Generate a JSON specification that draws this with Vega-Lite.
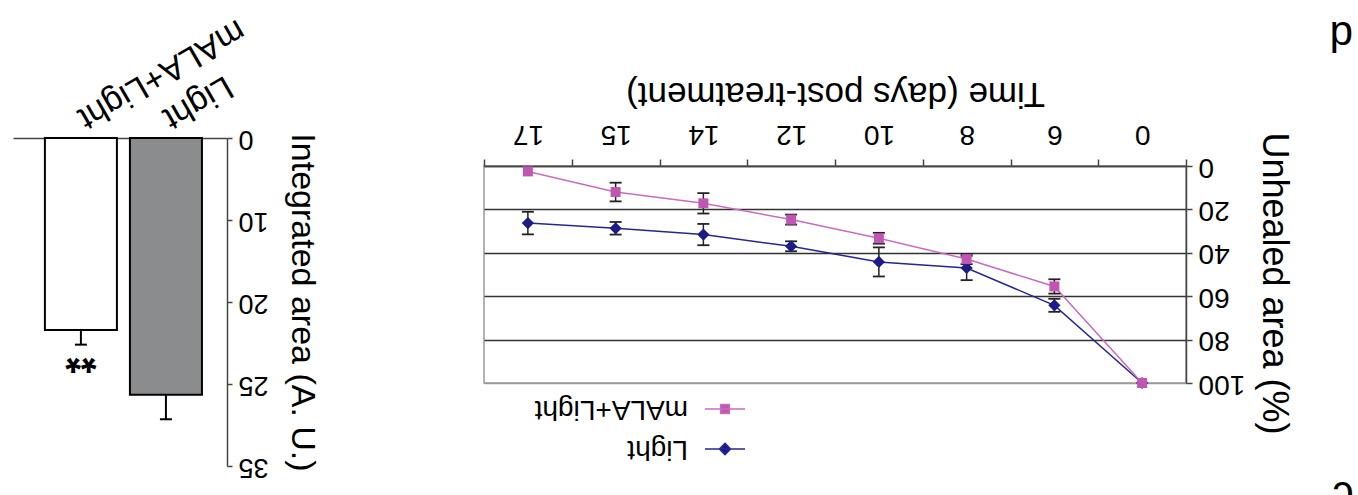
{
  "$schema": "https://vega.github.io/schema/vega-lite/v6.json",
  "padding": {"left": 13, "top": 12, "right": 0, "bottom": -10},
  "config": {
    "font": "Liberation Sans",
    "axis": {"labelFont": "Liberation Sans", "titleFont": "Liberation Sans", "labelColor": "#000", "titleColor": "#000", "titleFontWeight": "normal", "domainColor": "#444", "tickColor": "#444", "domainWidth": 1.5, "tickWidth": 1.5},
    "legend": {"labelFont": "Liberation Sans", "labelColor": "#000"},
    "title": {"font": "Liberation Sans", "color": "#000"}
  },
  "title": {"text": "c", "orient": "bottom", "anchor": "end", "angle": 180, "align": "left", "baseline": "bottom", "fontSize": 42, "fontWeight": "normal", "offset": -21},
  "datasets": {
    "lines": [
      {"day": "0", "group": "Light", "v": 100, "lo": 100, "hi": 100},
      {"day": "6", "group": "Light", "v": 64.2, "lo": 61.2, "hi": 67.2},
      {"day": "8", "group": "Light", "v": 47, "lo": 41.4, "hi": 52.6},
      {"day": "10", "group": "Light", "v": 44.2, "lo": 37.5, "hi": 50.9},
      {"day": "12", "group": "Light", "v": 37, "lo": 34.7, "hi": 39.3},
      {"day": "14", "group": "Light", "v": 31.6, "lo": 26.7, "hi": 36.5},
      {"day": "15", "group": "Light", "v": 28.7, "lo": 25.8, "hi": 31.6},
      {"day": "17", "group": "Light", "v": 26.3, "lo": 21.1, "hi": 31.5},
      {"day": "0", "group": "mALA+Light", "v": 100, "lo": 100, "hi": 100},
      {"day": "6", "group": "mALA+Light", "v": 55.5, "lo": 52.2, "hi": 58.8},
      {"day": "8", "group": "mALA+Light", "v": 42.9, "lo": 40.6, "hi": 45.2},
      {"day": "10", "group": "mALA+Light", "v": 33.3, "lo": 30.8, "hi": 35.8},
      {"day": "12", "group": "mALA+Light", "v": 24.7, "lo": 22.4, "hi": 27},
      {"day": "14", "group": "mALA+Light", "v": 17.2, "lo": 12.5, "hi": 21.9},
      {"day": "15", "group": "mALA+Light", "v": 12, "lo": 7.7, "hi": 16.3},
      {"day": "17", "group": "mALA+Light", "v": 2.5, "lo": 2.5, "hi": 2.5}
    ],
    "bars": [
      {"group": "mALA+Light", "v": 23.4, "hi": 25.2, "sig": "**"},
      {"group": "Light", "v": 31.3, "hi": 34.3, "sig": ""}
    ]
  },
  "resolve": {"scale": {"color": "independent"}},
  "spacing": 163,
  "hconcat": [
    {
      "width": 214,
      "height": 300,
      "view": {"stroke": null},
      "data": {"name": "bars"},
      "encoding": {
        "x": {"field": "group", "type": "nominal", "sort": null,
          "scale": {"domain": ["mALA+Light", "Light"], "paddingInner": 0.153, "paddingOuter": 0.335, "align": 0.56},
          "axis": {"orient": "top", "offset": 28, "title": null, "labelAngle": 150, "labelAlign": "right", "labelBaseline": "middle", "labelFontSize": 34, "labelLimit": 500, "labelPadding": 18, "ticks": false, "domainColor": "#444"}}
      },
      "layer": [
        {
          "mark": {"type": "bar", "stroke": "#000", "strokeWidth": 2},
          "encoding": {
            "y": {"field": "v", "type": "quantitative", "scale": {"domain": [0, 40], "range": [-28, 300], "nice": false},
              "axis": {"orient": "right", "values": [0, 10, 20, 30, 40], "labelExpr": "datum.value == 30 ? '25' : (datum.value == 40 ? '35' : datum.label)", "labelAngle": 180, "labelAlign": "right", "labelBaseline": "middle", "labelFontSize": 27, "labelPadding": 6, "tickSize": 5, "grid": false, "title": "Integrated area (A. U.)", "titleFontSize": 34, "titlePadding": 16}},
            "fill": {"field": "group", "type": "nominal", "scale": {"domain": ["mALA+Light", "Light"], "range": ["#ffffff", "#8b8c8e"]}, "legend": null}
          }
        },
        {
          "mark": {"type": "rule", "stroke": "#000", "strokeWidth": 2},
          "encoding": {"y": {"field": "v", "type": "quantitative"}, "y2": {"field": "hi"}}
        },
        {
          "mark": {"type": "tick", "color": "#000", "thickness": 2, "size": 12, "opacity": 1},
          "encoding": {"y": {"field": "hi", "type": "quantitative"}}
        },
        {
          "mark": {"type": "text", "angle": 180, "baseline": "alphabetic", "align": "center", "fontSize": 40, "fontWeight": "bold", "font": "Liberation Sans", "color": "#000"},
          "encoding": {"y": {"field": "hi", "type": "quantitative"}, "text": {"field": "sig"}}
        }
      ]
    },
    {
      "width": 702,
      "height": 217,
      "view": {"stroke": "#9a9a9a", "strokeWidth": 1.5},
      "title": {"text": "d", "orient": "top", "anchor": "end", "frame": "bounds", "angle": 180, "baseline": "top", "align": "right", "fontSize": 42, "fontWeight": "normal", "dx": -38, "offset": -22},
      "data": {"name": "lines"},
      "encoding": {
        "x": {"field": "day", "type": "nominal", "sort": null,
          "scale": {"type": "band", "domain": ["17", "15", "14", "12", "10", "8", "6", "0"], "paddingInner": 0, "paddingOuter": 0},
          "axis": {"orient": "top", "title": "Time (days post-treatment)", "titleFontSize": 35, "titleAngle": 180, "titleBaseline": "top", "titlePadding": 9, "labelAngle": 180, "labelAlign": "center", "labelBaseline": "top", "labelFontSize": 28, "labelPadding": 12, "tickSize": 7, "tickBand": "extent", "domainColor": "#444"}}
      },
      "layer": [
        {
          "mark": {"type": "line", "strokeWidth": 1.5},
          "encoding": {
            "y": {"field": "v", "type": "quantitative", "scale": {"domain": [0, 100], "reverse": true, "nice": false},
              "axis": {"orient": "right", "values": [0, 20, 40, 60, 80, 100], "labelAngle": 180, "labelAlign": "right", "labelBaseline": "middle", "labelFontSize": 28, "labelPadding": 6, "tickSize": 6, "grid": true, "gridColor": {"condition": {"test": "datum.value === 100", "value": "#9a9a9a"}, "value": "#333"}, "gridWidth": 1.5, "title": "Unhealed area (%)", "titleFontSize": 36, "titlePadding": 10, "titleY": 117}},
            "color": {"field": "group", "type": "nominal", "scale": {"domain": ["mALA+Light", "Light"], "range": ["#c86cbf", "#26268f"]},
              "legend": {"orient": "none", "legendX": 220, "legendY": 222, "title": null, "labelFontSize": 28, "labelLimit": 400, "symbolSize": 1600, "symbolStrokeWidth": 1.5, "labelOffset": -58, "rowPadding": 4, "direction": "vertical",
                "encode": {
                  "labels": {"update": {"angle": {"value": 180}}},
                  "symbols": {"update": {
                    "shape": {"signal": "datum.value === 'Light' ? 'M-1,0H1M0,-0.28L0.28,0L0,0.28L-0.28,0Z' : 'M-1,0H1M-0.22,-0.22H0.22V0.22H-0.22Z'"},
                    "fill": {"signal": "datum.value === 'Light' ? '#1c1c88' : '#c055b2'"},
                    "stroke": {"signal": "datum.value === 'Light' ? '#26268f' : '#c86cbf'"},
                    "strokeWidth": {"value": 1.5}
                  }}
                }}}
          }
        },
        {
          "transform": [{"filter": "datum.hi > datum.lo"}],
          "mark": {"type": "rule", "color": "#222", "strokeWidth": 1.5},
          "encoding": {"y": {"field": "lo", "type": "quantitative"}, "y2": {"field": "hi"}}
        },
        {
          "transform": [{"filter": "datum.hi > datum.lo"}],
          "mark": {"type": "tick", "color": "#222", "thickness": 1.8, "size": 12, "opacity": 1},
          "encoding": {"y": {"field": "lo", "type": "quantitative"}}
        },
        {
          "transform": [{"filter": "datum.hi > datum.lo"}],
          "mark": {"type": "tick", "color": "#222", "thickness": 1.8, "size": 12, "opacity": 1},
          "encoding": {"y": {"field": "hi", "type": "quantitative"}}
        },
        {
          "transform": [{"filter": "datum.group === 'Light'"}],
          "mark": {"type": "point", "shape": "diamond", "filled": true, "opacity": 1, "size": 150, "color": "#1c1c88"},
          "encoding": {"y": {"field": "v", "type": "quantitative"}}
        },
        {
          "transform": [{"filter": "datum.group === 'mALA+Light'"}],
          "mark": {"type": "point", "shape": "square", "filled": true, "opacity": 1, "size": 100, "color": "#c055b2"},
          "encoding": {"y": {"field": "v", "type": "quantitative"}}
        }
      ]
    }
  ]
}
